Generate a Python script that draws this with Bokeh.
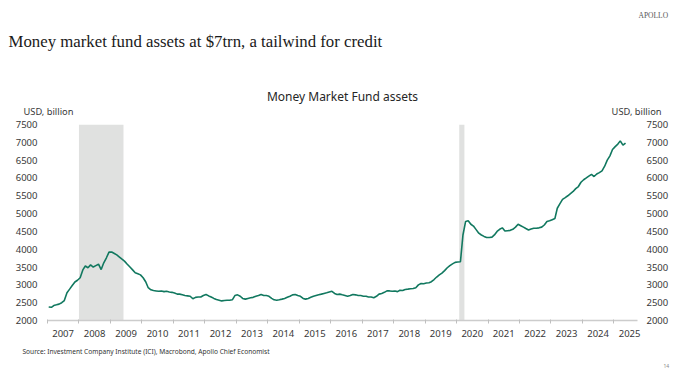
import pandas as pd
from bokeh.plotting import figure
from bokeh.models import LinearAxis, Range1d, FixedTicker, BoxAnnotation, CustomJSTickFormatter
from bokeh.core.properties import value
from bokeh.embed import file_html
from bokeh.resources import INLINE

# ---------------- data (USD billion, monthly) ----------------
start_month = "2007-01"
mmf_2007 = [2380, 2370, 2420, 2440, 2460, 2500, 2560, 2780, 2880, 2980, 3080, 3130]
mmf_2008 = [3200, 3420, 3530, 3480, 3560, 3500, 3540, 3580, 3430, 3620, 3760, 3920]
mmf_2009 = [3920, 3880, 3840, 3780, 3720, 3660, 3580, 3500, 3420, 3340, 3310, 3280]
mmf_2010 = [3200, 3080, 2920, 2860, 2840, 2830, 2820, 2830, 2810, 2820, 2800, 2790]
mmf_2011 = [2770, 2740, 2740, 2720, 2700, 2690, 2680, 2610, 2650, 2660, 2660, 2700]
mmf_2012 = [2730, 2690, 2660, 2620, 2590, 2570, 2550, 2560, 2570, 2570, 2580, 2700]
mmf_2013 = [2720, 2680, 2620, 2600, 2620, 2640, 2650, 2680, 2700, 2730, 2700, 2700]
mmf_2014 = [2680, 2620, 2580, 2570, 2580, 2600, 2620, 2650, 2680, 2720, 2730, 2700]
mmf_2015 = [2680, 2620, 2600, 2620, 2650, 2680, 2700, 2720, 2740, 2760, 2780, 2800]
mmf_2016 = [2820, 2760, 2730, 2740, 2720, 2700, 2680, 2700, 2730, 2720, 2700, 2700]
mmf_2017 = [2680, 2680, 2660, 2660, 2640, 2680, 2740, 2760, 2790, 2830, 2830, 2820]
mmf_2018 = [2830, 2810, 2850, 2840, 2870, 2880, 2890, 2900, 2920, 3000, 3040, 3030]
mmf_2019 = [3050, 3060, 3090, 3150, 3220, 3280, 3330, 3400, 3480, 3540, 3590, 3630]
mmf_2020 = [3640, 3650, 4400, 4780, 4800, 4700, 4650, 4550, 4450, 4400, 4360, 4330]
mmf_2021 = [4330, 4340, 4400, 4500, 4560, 4600, 4510, 4520, 4530, 4560, 4620, 4700]
mmf_2022 = [4660, 4620, 4580, 4540, 4570, 4590, 4590, 4600, 4620, 4680, 4780, 4800]
mmf_2023 = [4830, 4860, 5150, 5280, 5400, 5450, 5500, 5560, 5620, 5700, 5760, 5880]
mmf_2024 = [5950, 6000, 6050, 6100, 6040, 6110, 6150, 6200, 6330, 6500, 6620, 6800]
mmf_2025 = [6880, 6950, 7040, 6920, 6980]

years = list(range(2007, 2026))
recessions = [("2008-01-01", "2009-06-01"), ("2020-02-01", "2020-04-01")]
y_ticks = [2000, 2500, 3000, 3500, 4000, 4500, 5000, 5500, 6000, 6500, 7000, 7500]

headline = "Money market fund assets at $7trn, a tailwind for credit"
chart_title = "Money Market Fund assets"
unit_label = "USD, billion"
source_text = "Source: Investment Company Institute (ICI), Macrobond, Apollo Chief Economist"
brand = "APOLLO"
page_no = "14"

values = (mmf_2007 + mmf_2008 + mmf_2009 + mmf_2010 + mmf_2011 + mmf_2012 + mmf_2013
          + mmf_2014 + mmf_2015 + mmf_2016 + mmf_2017 + mmf_2018 + mmf_2019 + mmf_2020
          + mmf_2021 + mmf_2022 + mmf_2023 + mmf_2024 + mmf_2025)
dates = pd.date_range(start_month, periods=len(values), freq="MS") + pd.Timedelta(days=14)


def ms(s):
    return pd.Timestamp(s).value / 1e6


SANS = "Noto Sans"
TXT = "#383838"
LINE = "#11785f"

# layout of the page (pixels)
W, H = 680, 376
FL, FR, FT, FB = 47, 637, 124, 320  # frame edges
X0, X1 = ms("2007-01-01"), ms("2025-10-01")
Y0, Y1 = 2000, 7500

p = figure(width=W, height=H, x_axis_type="datetime", output_backend="svg",
           toolbar_location=None, x_range=Range1d(X0, X1), y_range=Range1d(Y0, Y1),
           min_border_left=FL, min_border_right=W - FR, min_border_top=FT,
           min_border_bottom=H - FB)
p.outline_line_color = None
p.grid.visible = False
p.background_fill_color = "white"
p.border_fill_color = "white"

for a, b in recessions:
    p.add_layout(BoxAnnotation(left=ms(a), right=ms(b), fill_color="#e0e1e0",
                               fill_alpha=1.0, line_color=None, level="underlay"))

p.line(dates, values, line_color=LINE, line_width=1.6)

xa = p.xaxis[0]
mids = [ms(f"{y}-07-01") for y in years]
bounds = [ms(f"{y}-01-01") for y in years] + [ms("2026-01-01")]
xa.ticker = FixedTicker(ticks=mids, minor_ticks=bounds)
xa.formatter = CustomJSTickFormatter(code="return String(new Date(tick).getUTCFullYear());")
xa.major_tick_line_color = None
xa.minor_tick_line_color = "#bfbfbf"
xa.minor_tick_in = 1
xa.minor_tick_out = 3
xa.axis_line_color = "#cccccc"
xa.axis_line_width = 1.5
xa.major_label_text_font = SANS
xa.major_label_text_font_size = "9.5px"
xa.major_label_text_color = TXT
xa.major_label_standoff = 3

ya = p.yaxis[0]
ya.ticker = FixedTicker(ticks=y_ticks)
ya.axis_line_color = None
ya.major_tick_line_color = None
ya.minor_tick_line_color = None
ya.major_label_text_font = SANS
ya.major_label_text_font_size = "9.5px"
ya.major_label_text_color = TXT
ya.major_label_standoff = 4

yr = LinearAxis(ticker=FixedTicker(ticks=y_ticks))
yr.axis_line_color = None
yr.major_tick_line_color = None
yr.minor_tick_line_color = None
yr.major_label_text_font = SANS
yr.major_label_text_font_size = "9.5px"
yr.major_label_text_color = TXT
yr.major_label_standoff = 3
p.add_layout(yr, "right")


def px_x(px):
    return X0 + (px - FL) / (FR - FL) * (X1 - X0)


def px_y(py):
    return Y0 + (FB - py) / (FB - FT) * (Y1 - Y0)


def txt(s, x, y, size, font=SANS, color=TXT, align="left"):
    p.text(x=[px_x(x)], y=[px_y(y)], text=[s], text_font=value(font),
           text_font_size=size, text_color=color, text_align=align,
           text_baseline="middle", level="overlay")


txt(headline, 8, 41, "16.8px", font="Liberation Serif", color="#1a1a1a")
txt(brand, 638, 15, "7.5px", font="Liberation Serif", color="#555555")
txt(chart_title, 342, 96, "12px", color="#262626", align="center")
txt(unit_label, 23, 111, "9.3px")
txt(unit_label, 661, 111, "9.3px", align="right")
txt(source_text, 22, 351, "6.6px", color="#333333")
txt(page_no, 663, 365, "5px", color="#888888")

open("out.html", "w").write(file_html(p, INLINE))
